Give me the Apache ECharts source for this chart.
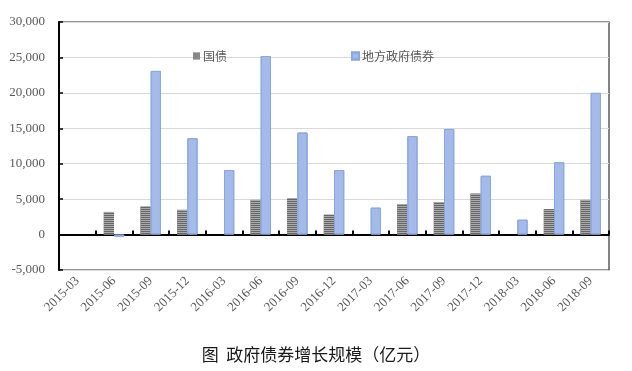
<!DOCTYPE html>
<html><head><meta charset="utf-8">
<script src="https://cdn.jsdelivr.net/npm/echarts@6/dist/echarts.min.js"></script>
<style>html,body{margin:0;padding:0;background:#fff}#c{width:632px;height:371px}</style>
</head><body><div id="c"></div>
<script>
const categories = ['2015-03','2015-06','2015-09','2015-12','2016-03','2016-06','2016-09','2016-12','2017-03','2017-06','2017-09','2017-12','2018-03','2018-06','2018-09'];
const guozhai = [null,3200,3950,3500,null,4900,5100,2800,null,4250,4600,5800,null,3600,4900];
const difang = [null,-300,23100,13600,9100,25200,14400,9100,3800,13900,14900,8300,2100,10200,20000];
const yTicks = {min:-5000, max:30000, interval:5000};
const chart = echarts.init(document.getElementById('c'));
chart.setOption({
  animation:false,
  backgroundColor:'#fff',
  title:{text:'图  政府债券增长规模（亿元）',left:'center',top:341,textStyle:{fontFamily:'Noto Sans CJK SC',fontSize:17,fontWeight:'normal',color:'#1a1a1a'}},
  legend:{left:188,top:45,itemWidth:7,itemHeight:7,itemGap:124,icon:'rect',
    textStyle:{fontFamily:'Noto Sans CJK SC',fontSize:12,color:'#595959',padding:[0,0,0,-2]},
    data:['国债','地方政府债券']},
  grid:{left:59,right:23,top:22,bottom:101,show:true,borderColor:'#333',borderWidth:1.2},
  xAxis:{type:'category',data:categories,
    axisLine:{onZero:true,lineStyle:{color:'#000',width:1.8}},
    axisTick:{show:true,inside:true,length:4,lineStyle:{color:'#000',width:2}},
    axisLabel:{rotate:45,interval:0,fontFamily:'Liberation Serif',fontSize:13,color:'#595959',margin:9}},
  yAxis:{type:'value',min:yTicks.min,max:yTicks.max,interval:yTicks.interval,
    axisLine:{show:true,lineStyle:{color:'#000',width:2}},
    axisTick:{show:true,inside:true,length:4,lineStyle:{color:'#000',width:1.5}},
    splitLine:{lineStyle:{color:'#d9d9d9'}},
    axisLabel:{fontFamily:'Liberation Serif',fontSize:13,color:'#595959',margin:14,
      formatter:v=>v.toLocaleString('en-US')}},
  series:[
    {name:'国债',type:'bar',data:guozhai,barGap:'0%',barCategoryGap:'44%',
     itemStyle:{color:'#666',decal:{symbol:'rect',dashArrayX:[1,0],dashArrayY:[1,1],symbolSize:1,rotation:0,color:'#aaa'}}},
    {name:'地方政府债券',type:'bar',data:difang,
     itemStyle:{color:'#a4bbea',borderColor:'#8aa7de',borderWidth:1,decal:{symbol:'circle',symbolSize:0.25,dashArrayX:[[1,5]],dashArrayY:[1,9],rotation:0,color:'#5b80d0'}}}
  ]
});
</script></body></html>
